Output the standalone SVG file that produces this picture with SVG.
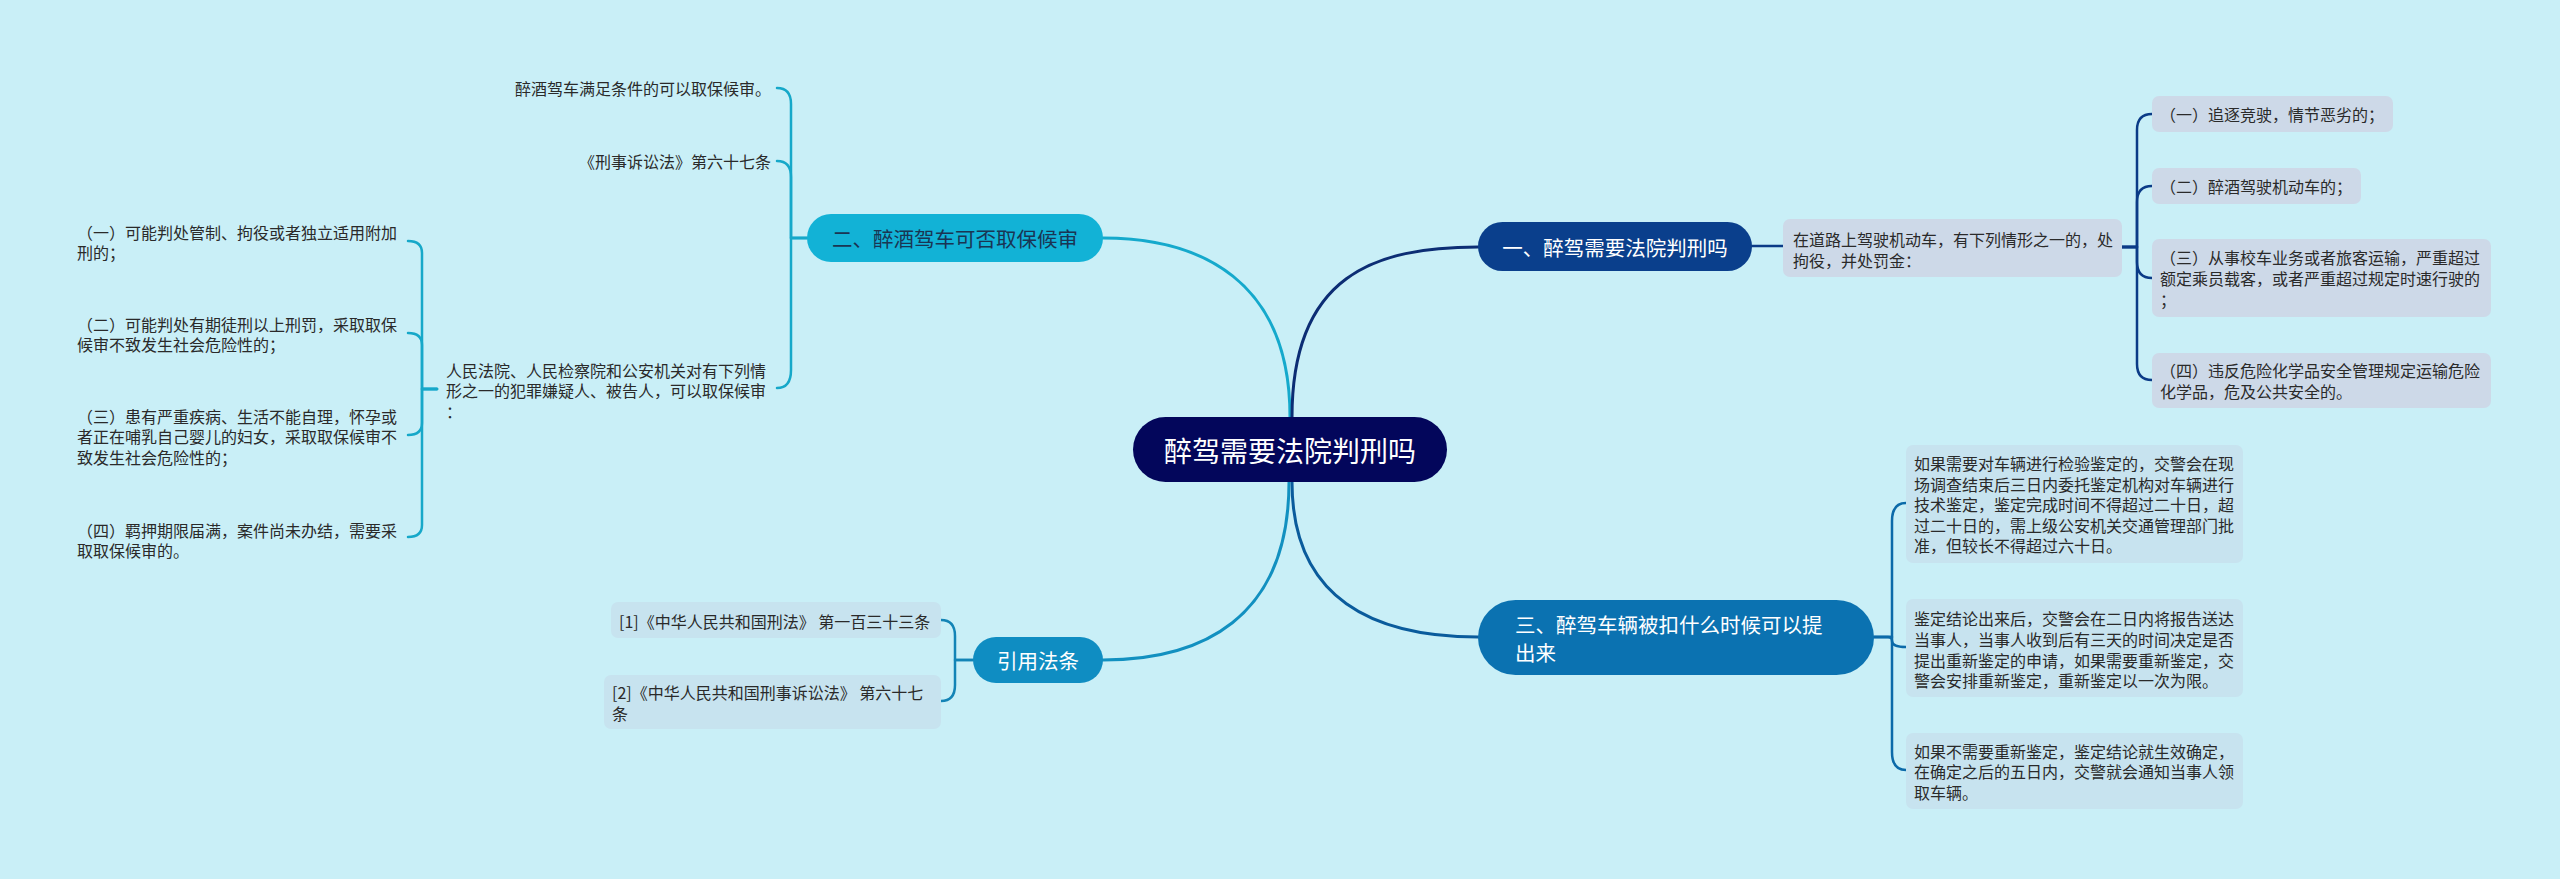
<svg xmlns="http://www.w3.org/2000/svg" width="2560" height="879" viewBox="0 0 2560 879">
<style>
text{font-family:"Noto Sans CJK SC","Noto Sans",sans-serif;dominant-baseline:central}
.t{font-size:16px;fill:#2a2a2a}
.n{font-size:20.5px;fill:#ffffff}
.c{fill:none;stroke-width:3;stroke-linecap:round}
.b{fill:none;stroke-width:2.5;stroke-linecap:round;stroke-linejoin:round}
.bx1{fill:#cdd9e8}
.bx2{fill:#c7e3ef}
</style>
<rect x="0" y="0" width="2560" height="879" fill="#c9eff7"/>
<g id="connectors">
<path class="c" stroke="#15a9cc" d="M1290,417 C1290,280 1200,238 1103,238"/>
<path class="c" stroke="#0c2d74" d="M1292,417 C1292,275 1375,247 1478,247"/>
<path class="c" stroke="#1290c0" d="M1289,482 C1289,620 1200,660 1103,660"/>
<path class="c" stroke="#0a5b9c" d="M1292,482 C1292,600 1375,637 1478,637"/>
<path class="b" stroke="#0b3b87" d="M1752,246 H1783"/>
<g stroke="#0b3b87">
<path class="b" d="M2122,247 H2137 V130 Q2137,114 2152,114"/>
<path class="b" d="M2122,247 H2137 V202 Q2137,186 2152,186"/>
<path class="b" d="M2122,247 H2137 V262 Q2137,278 2152,278"/>
<path class="b" d="M2122,247 H2137 V364 Q2137,380 2152,380"/>
</g>
<g stroke="#16a8c9">
<path class="b" d="M807,238 H791 V104 Q791,88 777,88"/>
<path class="b" d="M807,238 H791 V177 Q791,161 777,161"/>
<path class="b" d="M807,238 H791 V370 Q791,388 777,388"/>
<path class="b" d="M437,389 H422 V253 Q422,241 408,241"/>
<path class="b" d="M437,389 H422 V345 Q422,333 408,333"/>
<path class="b" d="M437,389 H422 V423 Q422,435 408,435"/>
<path class="b" d="M437,389 H422 V525 Q422,537 408,537"/>
</g>
<g stroke="#1384b6">
<path class="b" d="M973,660 H955 V636 Q955,620 941,620"/>
<path class="b" d="M973,660 H955 V685 Q955,701 941,701"/>
</g>
<g stroke="#0b6aa9">
<path class="b" d="M1874,637 H1892 V521 Q1892,503 1906,503"/>
<path class="b" d="M1874,637 H1888 Q1892,637 1892,641 Q1892,647 1906,647"/>
<path class="b" d="M1874,637 H1892 V752 Q1892,770 1906,770"/>
</g>
</g>
<g id="root">
<rect x="1133" y="417" width="314" height="65" rx="32.5" fill="#03065b"/>
<text x="1290" y="449.5" text-anchor="middle" style="font-size:28px;fill:#fff">醉驾需要法院判刑吗</text>
</g>
<g id="n1">
<rect x="1478" y="222" width="274" height="49" rx="24.5" fill="#0a3f8c"/>
<text class="n" x="1615" y="246.5" text-anchor="middle">一、醉驾需要法院判刑吗</text>
</g>
<g id="n1a">
<rect class="bx1" x="1783" y="219" width="339" height="58" rx="7"/>
<text class="t" x="1793" y="239">在道路上驾驶机动车，有下列情形之一的，处</text>
<text class="t" x="1793" y="260">拘役，并处罚金：</text>
</g>
<g id="n1a1">
<rect class="bx1" x="2152" y="96" width="241" height="36" rx="7"/>
<text class="t" x="2160" y="114">（一）追逐竞驶，情节恶劣的；</text>
</g>
<g id="n1a2">
<rect class="bx1" x="2152" y="168" width="209" height="36" rx="7"/>
<text class="t" x="2160" y="186">（二）醉酒驾驶机动车的；</text>
</g>
<g id="n1a3">
<rect class="bx1" x="2152" y="239" width="339" height="78" rx="7"/>
<text class="t" x="2160" y="257">（三）从事校车业务或者旅客运输，严重超过</text>
<text class="t" x="2160" y="278">额定乘员载客，或者严重超过规定时速行驶的</text>
<text class="t" x="2160" y="299">；</text>
</g>
<g id="n1a4">
<rect class="bx1" x="2152" y="353" width="339" height="55" rx="7"/>
<text class="t" x="2160" y="369.5">（四）违反危险化学品安全管理规定运输危险</text>
<text class="t" x="2160" y="390.5">化学品，危及公共安全的。</text>
</g>
<g id="n2">
<rect x="807" y="214" width="296" height="48" rx="24" fill="#12b2d6"/>
<text x="955" y="238" text-anchor="middle" style="font-size:20.5px;fill:#1a3553">二、醉酒驾车可否取保候审</text>
</g>
<g id="n2a">
<text class="t" x="771" y="88" text-anchor="end">醉酒驾车满足条件的可以取保候审。</text>
</g>
<g id="n2b">
<text class="t" x="771" y="161" text-anchor="end">《刑事诉讼法》第六十七条</text>
</g>
<g id="n2c">
<text class="t" x="446" y="370">人民法院、人民检察院和公安机关对有下列情</text>
<text class="t" x="446" y="390">形之一的犯罪嫌疑人、被告人，可以取保候审</text>
<text class="t" x="446" y="411">：</text>
</g>
<g id="n2c1">
<text class="t" x="77" y="232">（一）可能判处管制、拘役或者独立适用附加</text>
<text class="t" x="77" y="252">刑的；</text>
</g>
<g id="n2c2">
<text class="t" x="77" y="324">（二）可能判处有期徒刑以上刑罚，采取取保</text>
<text class="t" x="77" y="344">候审不致发生社会危险性的；</text>
</g>
<g id="n2c3">
<text class="t" x="77" y="416">（三）患有严重疾病、生活不能自理，怀孕或</text>
<text class="t" x="77" y="436">者正在哺乳自己婴儿的妇女，采取取保候审不</text>
<text class="t" x="77" y="457">致发生社会危险性的；</text>
</g>
<g id="n2c4">
<text class="t" x="77" y="530">（四）羁押期限届满，案件尚未办结，需要采</text>
<text class="t" x="77" y="550">取取保候审的。</text>
</g>
<g id="n3">
<rect x="973" y="637" width="130" height="46" rx="23" fill="#0f8dc2"/>
<text class="n" x="1038" y="660" text-anchor="middle">引用法条</text>
</g>
<g id="n3a">
<rect class="bx2" x="611" y="602" width="330" height="36" rx="7"/>
<text class="t" x="619" y="621">[1]《中华人民共和国刑法》 第一百三十三条</text>
</g>
<g id="n3b">
<rect class="bx2" x="604" y="675" width="337" height="54" rx="7"/>
<text class="t" x="612" y="692">[2]《中华人民共和国刑事诉讼法》 第六十七</text>
<text class="t" x="612" y="713">条</text>
</g>
<g id="n4">
<rect x="1478" y="600" width="396" height="75" rx="37.5" fill="#0b72b1"/>
<text class="n" x="1515" y="624">三、醉驾车辆被扣什么时候可以提</text>
<text class="n" x="1515" y="652">出来</text>
</g>
<g id="n4a">
<rect class="bx2" x="1906" y="445" width="337" height="118" rx="7"/>
<text class="t" x="1914" y="463">如果需要对车辆进行检验鉴定的，交警会在现</text>
<text class="t" x="1914" y="483.5">场调查结束后三日内委托鉴定机构对车辆进行</text>
<text class="t" x="1914" y="504">技术鉴定，鉴定完成时间不得超过二十日，超</text>
<text class="t" x="1914" y="524.5">过二十日的，需上级公安机关交通管理部门批</text>
<text class="t" x="1914" y="545">准，但较长不得超过六十日。</text>
</g>
<g id="n4b">
<rect class="bx2" x="1906" y="599" width="337" height="98" rx="7"/>
<text class="t" x="1914" y="618">鉴定结论出来后，交警会在二日内将报告送达</text>
<text class="t" x="1914" y="639">当事人，当事人收到后有三天的时间决定是否</text>
<text class="t" x="1914" y="659.5">提出重新鉴定的申请，如果需要重新鉴定，交</text>
<text class="t" x="1914" y="680">警会安排重新鉴定，重新鉴定以一次为限。</text>
</g>
<g id="n4c">
<rect class="bx2" x="1906" y="733" width="337" height="76" rx="7"/>
<text class="t" x="1914" y="751">如果不需要重新鉴定，鉴定结论就生效确定，</text>
<text class="t" x="1914" y="771">在确定之后的五日内，交警就会通知当事人领</text>
<text class="t" x="1914" y="792">取车辆。</text>
</g>
</svg>
